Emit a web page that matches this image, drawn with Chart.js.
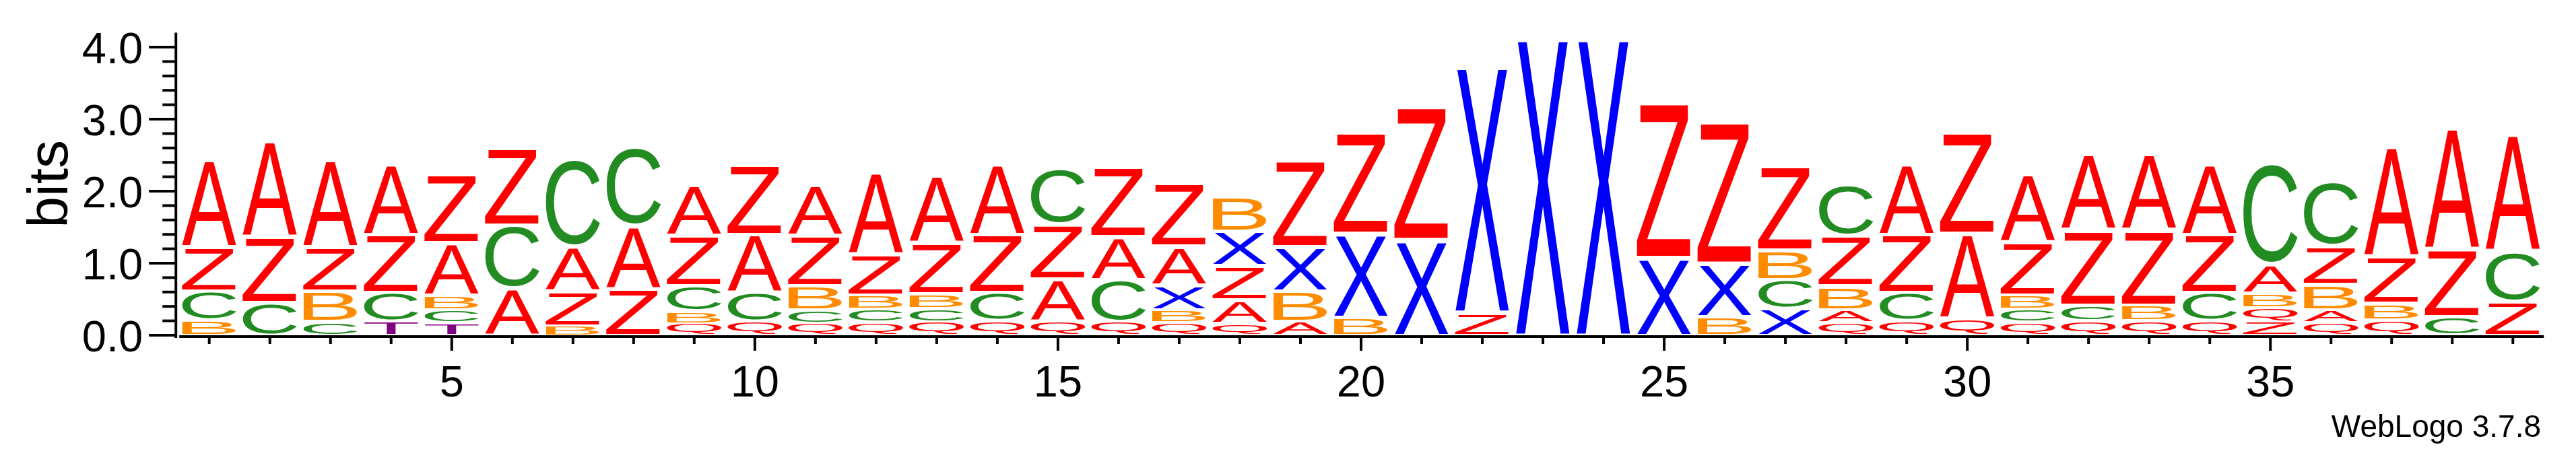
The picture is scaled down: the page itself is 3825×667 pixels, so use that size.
<!DOCTYPE html>
<html><head><meta charset="utf-8">
<script src="https://cdn.jsdelivr.net/npm/chart.js@4.4.1/dist/chart.umd.min.js"></script>
<style>html,body{margin:0;padding:0;background:#fff;}canvas{display:block;}</style>
</head><body>
<canvas id="c" width="3825" height="667"></canvas>
<script>
// Sequence positions (categories)
const positions = [1,2,3,4,5,6,7,8,9,10,11,12,13,14,15,16,17,18,19,20,21,22,23,24,25,26,27,28,29,30,31,32,33,34,35,36,37,38,39];
// Information content (bits) per letter per position
const bitsA = [1.22,1.34,1.22,0.99,0.73,0.65,0.62,0.87,0.71,0.81, 0.71,1.14,0.94,0.99,0.58,0.59,0.54,0.33,0.19,0, 0,0,0,0,0,0,0,0.18,0.99,1.18, 0.95,1.06,1.06,0.99,0.40,0.18,1.53,1.69,1.63];
const bitsB = [0.21,0,0.42,0,0.20,0,0.13,0,0.17,0, 0.34,0.19,0.198,0,0,0,0.18,0.49,0.42,0.25, 0,0,0,0,0,0.26,0.41,0.33,0,0, 0.19,0,0.22,0,0.20,0.35,0.23,0,0];
const bitsC = [0.40,0.45,0.19,0.40,0.185,0.88,1.22,1.09,0.35,0.40, 0.18,0.185,0.19,0.39,0.78,0.585,0,0,0,0, 0,0,0,0,0,0,0.405,0.71,0.39,0, 0.185,0.22,0,0.39,1.41,0.89,0,0.26,0.70];
const bitsQ = [0,0,0,0,0,0,0,0,0.165,0.19, 0.17,0.18,0.186,0.20,0.20,0.19,0.175,0.16,0,0, 0,0,0,0,0,0,0,0.175,0.20,0.24, 0.18,0.20,0.20,0.20,0.195,0.175,0.21,0,0];
const bitsT = [0,0,0,0.19,0.17,0,0,0,0,0, 0,0,0,0,0,0,0,0,0,0, 0,0,0,0,0,0,0,0,0,0, 0,0,0,0,0,0,0,0,0];
const bitsX = [0,0,0,0,0,0,0,0,0,0, 0,0,0,0,0,0,0.34,0.48,0.62,1.17, 1.33,3.46,4.18,4.18,1.08,0.74,0.37,0,0,0, 0,0,0,0,0,0,0,0,0];
const bitsZ = [0.62,0.92,0.62,0.81,0.96,1.09,0.48,0.65,0.70,0.99, 0.70,0.57,0.72,0.81,0.76,0.98,0.89,0.475,1.22,1.43, 1.87,0.32,0,0,2.18,1.99,1.18,0.70,0.81,1.43, 0.74,1.05,1.05,0.81,0.19,0.53,0.66,0.95,0.47];
const letters = ['A','B','C','Q','T','X','Z'];
const letterBits = {A:bitsA,B:bitsB,C:bitsC,Q:bitsQ,T:bitsT,X:bitsX,Z:bitsZ};
const letterColors = {A:'#ff0000',B:'#ff8c00',C:'#228b22',Q:'#ff0000',T:'#800080',X:'#0000ff',Z:'#ff0000'};
const yMajorTicks = [0,1,2,3,4];
const yTickLabels = ['0.0','1.0','2.0','3.0','4.0'];
const xLabelEvery = 5;
const yTitle = 'bits';
const footnote = 'WebLogo 3.7.8';

// Build stacked layers: at each position, letters sorted ascending (smallest at bottom)
const stacks = positions.map((p,i)=>letters.filter(l=>letterBits[l][i]>0).map(l=>({l,v:letterBits[l][i]})).sort((a,b)=>a.v-b.v));
const nLayers = Math.max(...stacks.map(s=>s.length));
const datasets = [];
for(let r=0;r<nLayers;r++){
  datasets.push({
    data: stacks.map(s=>s[r]?s[r].v:null),
    letters: stacks.map(s=>s[r]?s[r].l:null),
    backgroundColor:'rgba(0,0,0,0)', borderWidth:0,
    barPercentage:0.9, categoryPercentage:1.0
  });
}

const FONT = '"Liberation Sans", Arial, Helvetica, sans-serif';
const glyphCache = {};
function glyphBox(ctx,ch){
  if(glyphCache[ch]) return glyphCache[ch];
  ctx.save(); ctx.font = '400px '+FONT; ctx.textAlign='left'; ctx.textBaseline='alphabetic';
  const m = ctx.measureText(ch); ctx.restore();
  return glyphCache[ch] = {l:m.actualBoundingBoxLeft, r:m.actualBoundingBoxRight, a:m.actualBoundingBoxAscent, d:m.actualBoundingBoxDescent};
}
function drawGlyph(ctx,ch,color,x0,y0,w,h){
  if(h<=0.3) return;
  const g = glyphBox(ctx,ch);
  const gw = g.l+g.r, gh = g.a+g.d;
  ctx.save();
  ctx.translate(x0,y0);
  ctx.scale(w/gw,h/gh);
  ctx.font = '400px '+FONT; ctx.textAlign='left'; ctx.textBaseline='alphabetic';
  ctx.fillStyle = color;
  ctx.fillText(ch,g.l,g.a);
  ctx.restore();
}

const logoPlugin = {
  id:'logo',
  afterDatasetsDraw(chart){
    const ctx = chart.ctx;
    chart.data.datasets.forEach((ds,di)=>{
      const meta = chart.getDatasetMeta(di);
      meta.data.forEach((bar,i)=>{
        const v = ds.data[i]; if(!v) return;
        const p = bar.getProps(['x','y','base','width'],true);
        const top = Math.min(p.y,p.base), bot = Math.max(p.y,p.base);
        const inset = Math.min(2.5,(bot-top)*0.1);
        drawGlyph(ctx,ds.letters[i],letterColors[ds.letters[i]],p.x-p.width/2,top+inset,p.width,bot-top-2*inset);
      });
    });
  },
  afterDraw(chart){
    const ctx = chart.ctx, xs = chart.scales.x, ys = chart.scales.y, ca = chart.chartArea;
    const y0 = ys.getPixelForValue(0);
    ctx.save();
    ctx.strokeStyle='#000'; ctx.fillStyle='#000'; ctx.lineWidth=4; ctx.lineCap='butt';
    // y axis line
    const ax = ca.left-4.5;
    ctx.beginPath(); ctx.moveTo(ax,ca.top); ctx.lineTo(ax,y0+4); ctx.stroke();
    // y ticks every 0.2
    for(let k=0;k<=20;k++){
      const v = k/5, py = ys.getPixelForValue(v);
      const major = k%5===0;
      ctx.beginPath(); ctx.moveTo(major?ax-40:ax-20,py); ctx.lineTo(ax,py); ctx.stroke();
    }
    ctx.font = '65px '+FONT; ctx.textAlign='right'; ctx.textBaseline='alphabetic';
    yMajorTicks.forEach((v,j)=>{ ctx.fillText(yTickLabels[j], ax-49, ys.getPixelForValue(v)+23.5); });
    // x axis line
    const axY = y0+2;
    ctx.beginPath(); ctx.moveTo(ca.left+0.5,axY); ctx.lineTo(ca.right+1,axY); ctx.stroke();
    ctx.textAlign='center';
    positions.forEach((p,i)=>{
      const px = xs.getPixelForValue(i);
      const major = p%xLabelEvery===0;
      ctx.beginPath(); ctx.moveTo(px,axY); ctx.lineTo(px,axY+(major?21:11)); ctx.stroke();
      if(major) ctx.fillText(String(p),px,589);
    });
    // y title
    ctx.save(); ctx.translate(100,(ca.top+y0)/2); ctx.rotate(-Math.PI/2);
    ctx.font='84px '+FONT; ctx.textAlign='center'; ctx.textBaseline='alphabetic';
    ctx.fillText(yTitle,0,0); ctx.restore();
    // footnote
    ctx.font='46px '+FONT; ctx.textAlign='right'; ctx.textBaseline='alphabetic';
    ctx.fillText(footnote,3773,649);
    ctx.restore();
  }
};

new Chart(document.getElementById('c'),{
  type:'bar',
  data:{labels:positions.map(String),datasets},
  options:{
    responsive:false, animation:false, events:[],
    plugins:{legend:{display:false},tooltip:{enabled:false}},
    layout:{padding:{left:265.7,right:48.7,top:48.6,bottom:169}},
    scales:{
      x:{stacked:true,display:false},
      y:{stacked:true,display:false,min:0,max:4.2}
    }
  },
  plugins:[logoPlugin]
});
</script>
</body></html>
